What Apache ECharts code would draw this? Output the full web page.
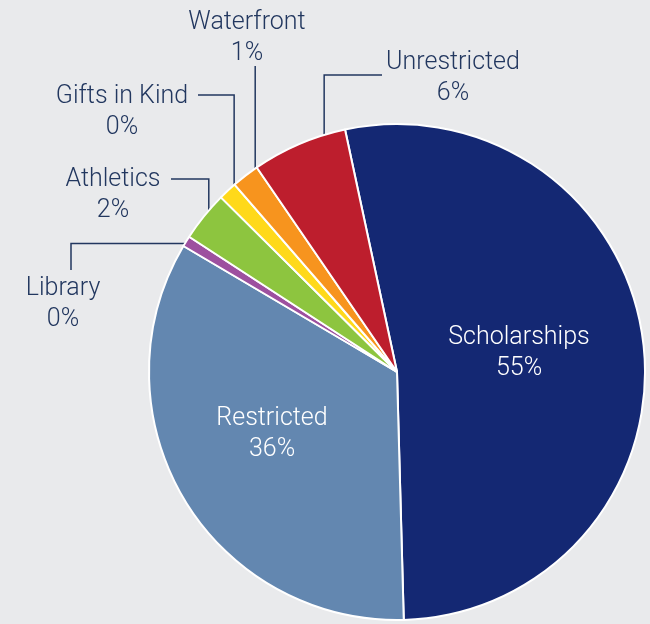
<!DOCTYPE html>
<html>
<head>
<meta charset="utf-8">
<script src="https://cdn.jsdelivr.net/npm/echarts@6/dist/echarts.min.js"></script>
<style>
  html, body { margin: 0; padding: 0; background: #e9eaec; }
  #chart { width: 650px; height: 624px; }
</style>
</head>
<body>
<div id="chart"></div>
<script>
// slice order is clockwise, starting just left of 12 o'clock
const categories = ['Scholarships', 'Restricted', 'Library', 'Athletics', 'Gifts in Kind', 'Waterfront', 'Unrestricted']
const shares     = [52.9, 33.9, 0.7, 3.25, 1.2, 1.8, 6.2]   // slice sizes as drawn
const labelPct   = [55, 36, 0, 2, 0, 1, 6]                  // percentages printed on the chart
const colors     = ['#142873', '#6387b0', '#9d509f', '#8dc53f', '#ffd91a', '#f7941e', '#bd1e2d']

const CX = 397, CY = 372, R = 248
const START = 102.1          // echarts start angle (ccw from 3 o'clock)
const INK = '#22375f'

// centre of each label block
const LABEL_AT = [[519, 353], [272, 434], [63, 304], [113, 195], [122, 112], [247, 38], [453, 78]]
// leader lines: shape, where it leaves the label, and where the tip sits in the slice
const LEADERS = [
  null,
  null,
  { type: 'vh', sx: 71,  sy: 270, frac: 0.5,  r: 244 },
  { type: 'hv', sx: 171, sy: 179, frac: 0.4,  r: 238 },
  { type: 'hv', sx: 198, sy: 95,  frac: 0.37, r: 236 },
  { type: 'v',  sx: 0,   sy: 66,  frac: 0.44, r: 230 },
  { type: 'hv', sx: 382, sy: 75,  frac: 0.68, r: 221 },
]

const total = shares.reduce((a, b) => a + b, 0)

function tipPoint(i, frac, r) {
  let cum = 0
  for (let k = 0; k < i; k++) cum += shares[k]
  const deg = (90 - START) + (cum + frac * shares[i]) / total * 360
  const a = deg * Math.PI / 180
  return [CX + r * Math.sin(a), CY - r * Math.cos(a)]
}

function leaderPoints(i) {
  const l = LEADERS[i]
  if (!l) return null
  const [tx, ty] = tipPoint(i, l.frac, l.r)
  if (l.type === 'hv') return [[l.sx, l.sy], [tx, l.sy], [tx, ty]]
  if (l.type === 'vh') return [[l.sx, l.sy], [l.sx, ty], [tx + 4, ty]]
  return [[tx, l.sy], [tx, ty]]
}

const chart = echarts.init(document.getElementById('chart'), null, { renderer: 'canvas' })

const data = categories.map((name, i) => {
  const inside = i < 2
  return {
    name, value: shares[i],
    itemStyle: { color: colors[i] },
    label: { position: inside ? 'inside' : 'outside', color: inside ? '#ffffff' : INK },
    labelLine: { show: !inside },
  }
})

chart.setOption({
  backgroundColor: '#e9eaec',
  animation: false,
  series: [{
    type: 'pie',
    center: [CX, CY],
    radius: R,
    startAngle: START,
    clockwise: true,
    avoidLabelOverlap: false,
    silent: true,
    itemStyle: { borderColor: '#ffffff', borderWidth: 2 },
    label: {
      fontFamily: 'Roboto, "Liberation Sans", sans-serif',
      fontWeight: 300,
      fontSize: 25,
      lineHeight: 31,
      align: 'center',
      formatter: p => p.name + '\n' + labelPct[p.dataIndex] + '%',
    },
    labelLine: { lineStyle: { color: INK, width: 1.5 } },
    labelLayout: p => {
      const i = p.dataIndex
      const out = { x: LABEL_AT[i][0], y: LABEL_AT[i][1], align: 'center', verticalAlign: 'middle' }
      const pts = leaderPoints(i)
      if (pts) out.labelLinePoints = pts
      return out
    },
    data,
  }],
})
</script>
</body>
</html>
